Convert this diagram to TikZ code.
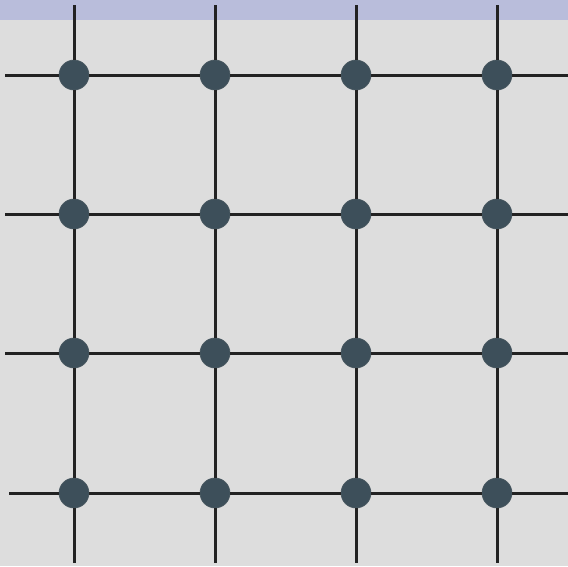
\documentclass[tikz,border=0pt]{standalone}
\definecolor{bgcol}{HTML}{DDDDDD}
\definecolor{stripcol}{HTML}{B9BDDB}
\definecolor{linecol}{HTML}{222222}
\definecolor{dotcol}{HTML}{3D4F5A}
\tikzset{
  gridline/.style={draw=linecol, line width=3pt},
  dot/.style={circle, fill=dotcol, draw=dotcol!80!gray, line width=0.6pt, minimum size=30pt, inner sep=0pt}
}
\begin{document}
\begin{tikzpicture}[x=1pt,y=-1pt]
\useasboundingbox (0,0) rectangle (568,566);
\fill[bgcol] (0,0) rectangle (568,566);
\fill[stripcol] (0,0) rectangle (568,19.5);
% line end coordinates
\foreach \c/\x in {1/74,2/215,3/356,4/497}{
  \coordinate (top\c) at (\x,5);
  \coordinate (bot\c) at (\x,563);
}
\foreach \r/\y/\l in {1/75/5,2/214/5,3/353/5,4/493/9}{
  \coordinate (left\r) at (\l,\y);
  \coordinate (right\r) at (568,\y);
}
% dots
\foreach \r/\y in {1/75,2/214,3/353,4/493}{
  \foreach \c/\x in {1/74,2/215,3/356,4/497}{
    \node[dot] (n\r\c) at (\x,\y) {};
  }
}
% vertical connectors
\foreach \c in {1,2,3,4}{
  \draw[gridline] (top\c) -- (n1\c) (n1\c) -- (n2\c) (n2\c) -- (n3\c) (n3\c) -- (n4\c) (n4\c) -- (bot\c);
}
% horizontal connectors
\foreach \r in {1,2,3,4}{
  \draw[gridline] (left\r) -- (n\r1) (n\r1) -- (n\r2) (n\r2) -- (n\r3) (n\r3) -- (n\r4) (n\r4) -- (right\r);
}
\end{tikzpicture}
\end{document}
